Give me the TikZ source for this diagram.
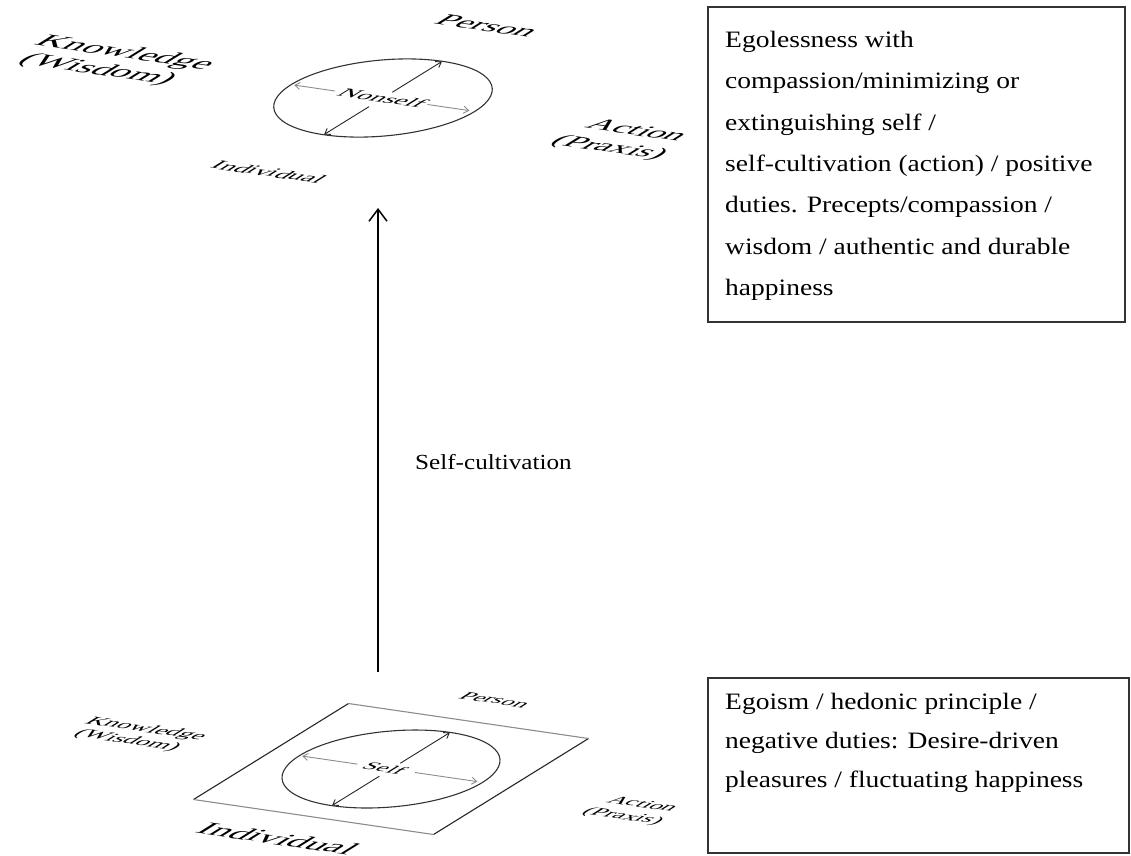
\documentclass[tikz,border=0pt]{standalone}
\usepackage{fontspec}
\setmainfont{Liberation Serif}
\newfontfamily\boxfont[FakeStretch=1.17]{Liberation Serif}
\usetikzlibrary{arrows.meta}
\begin{document}
\begin{tikzpicture}[x=1pt,y=-1pt,
  boxtext/.style={anchor=north west, inner sep=0pt, align=left},
  framebox/.style={draw=black!80, line width=1.2pt},
  planeside/.style={draw=black!85, line width=1.1pt},
  planefb/.style={draw=black!45, line width=1.1pt},
  ring/.style={draw=black!80, line width=1.1pt},
  darrow/.style={draw=black!85, line width=0.9pt, -{Straight Barb[length=5pt,width=7pt]}},
  harrow/.style={draw=black!45, line width=0.9pt, -{Straight Barb[length=5pt,width=7pt]}},
  plabel/.style={transform shape, inner sep=0pt, align=center},
  mainarrow/.style={draw=black, line width=1.5pt, -{Straight Barb[length=12pt,width=18pt]}}
]
\useasboundingbox (0,0) rectangle (1131,855);

% ---------- top (Nonself) ----------
\begin{scope}[cm={1.2,-0.175,0.775,0.48,(383,98)}, x=1pt, y=1pt]
  \draw[ring] (0,0) circle[radius=76.5];
  \coordinate (tU0) at (0,12);   \coordinate (tU1) at (0,76);
  \coordinate (tD0) at (0,-18);  \coordinate (tD1) at (0,-76);
  \coordinate (tL0) at (-40,0);  \coordinate (tL1) at (-74,0);
  \coordinate (tR0) at (37,0);   \coordinate (tR1) at (72,0);
  \draw[darrow] (tU0) -- (tU1);
  \draw[darrow] (tD0) -- (tD1);
  \draw[harrow] (tL0) -- (tL1);
  \draw[harrow] (tR0) -- (tR1);
  \node[plabel, font=\fontsize{22}{25}\selectfont] (nonself) at (0,0) {Nonself};
  \node[plabel, font=\fontsize{29}{35}\selectfont] (tperson) at (-8,147) {Person};
  \node[plabel, font=\fontsize{31}{35}\selectfont] (tknow) at (-223,-6) {Knowledge\\(Wisdom)};
  \node[plabel, font=\fontsize{28.6}{35}\selectfont] (taction) at (207,-12) {Action\\(Praxis)};
  \node[plabel, font=\fontsize{22}{25}\selectfont] (tindiv) at (4,-153) {Individual};
\end{scope}

% ---------- bottom (Self) ----------
\begin{scope}[cm={1.2,-0.175,0.775,0.48,(391,769)}, x=1pt, y=1pt]
  \coordinate (pFL) at (-100,-100); \coordinate (pFR) at (100,-100);
  \coordinate (pBL) at (-100,100);  \coordinate (pBR) at (100,100);
  \draw[planeside] (pFL) -- (pBL);
  \draw[planeside] (pFR) -- (pBR);
  \draw[planefb] (pFL) -- (pFR);
  \draw[planefb] (pBL) -- (pBR);
  \draw[ring] (0,0) circle[radius=76.3];
  \coordinate (bU0) at (0,12);   \coordinate (bU1) at (0,76);
  \coordinate (bD0) at (0,-15);  \coordinate (bD1) at (0,-76);
  \coordinate (bL0) at (-28,0);  \coordinate (bL1) at (-74,0);
  \coordinate (bR0) at (20,0);   \coordinate (bR1) at (72,0);
  \draw[darrow] (bU0) -- (bU1);
  \draw[darrow] (bD0) -- (bD1);
  \draw[harrow] (bL0) -- (bL1);
  \draw[harrow] (bR0) -- (bR1);
  \node[plabel, font=\fontsize{20}{23}\selectfont] (self) at (-5,0) {Self};
  \node[plabel, font=\fontsize{20}{23}\selectfont] (bperson) at (-5,142) {Person};
  \node[plabel, font=\fontsize{21}{24}\selectfont] (bknow) at (-209,-5) {Knowledge\\(Wisdom)};
  \node[plabel, font=\fontsize{20}{25}\selectfont] (baction) at (208,-11) {Action\\(Praxis)};
  \node[plabel, font=\fontsize{31}{35}\selectfont] (bindiv) at (0,-145) {Individual};
\end{scope}

% ---------- main arrow ----------
\coordinate (arrowbot) at (378,672);
\coordinate (arrowtop) at (378,208);
\draw[mainarrow] (arrowbot) -- (arrowtop);
\node[anchor=west, inner sep=0pt, font=\boxfont\fontsize{21.5}{25}\selectfont] (selfcult) at (415,462) {Self-cultivation};

% ---------- text boxes ----------
\draw[framebox] (708,7) rectangle (1125,322);
\node[boxtext, font=\boxfont\fontsize{23.5}{41.3}\selectfont] (topbox) at (725,31)
 {Egolessness with\\
  compassion/minimizing or\\
  extinguishing self /\\
  self-cultivation (action) / positive\\
  duties. Precepts/compassion /\\
  wisdom / authentic and durable\\
  happiness};

\draw[framebox] (708,678) rectangle (1129,853);
\node[boxtext, font=\boxfont\fontsize{23.5}{39}\selectfont] (botbox) at (725,693)
 {Egoism / hedonic principle /\\
  negative duties: Desire-driven\\
  pleasures / fluctuating happiness};
\end{tikzpicture}
\end{document}
